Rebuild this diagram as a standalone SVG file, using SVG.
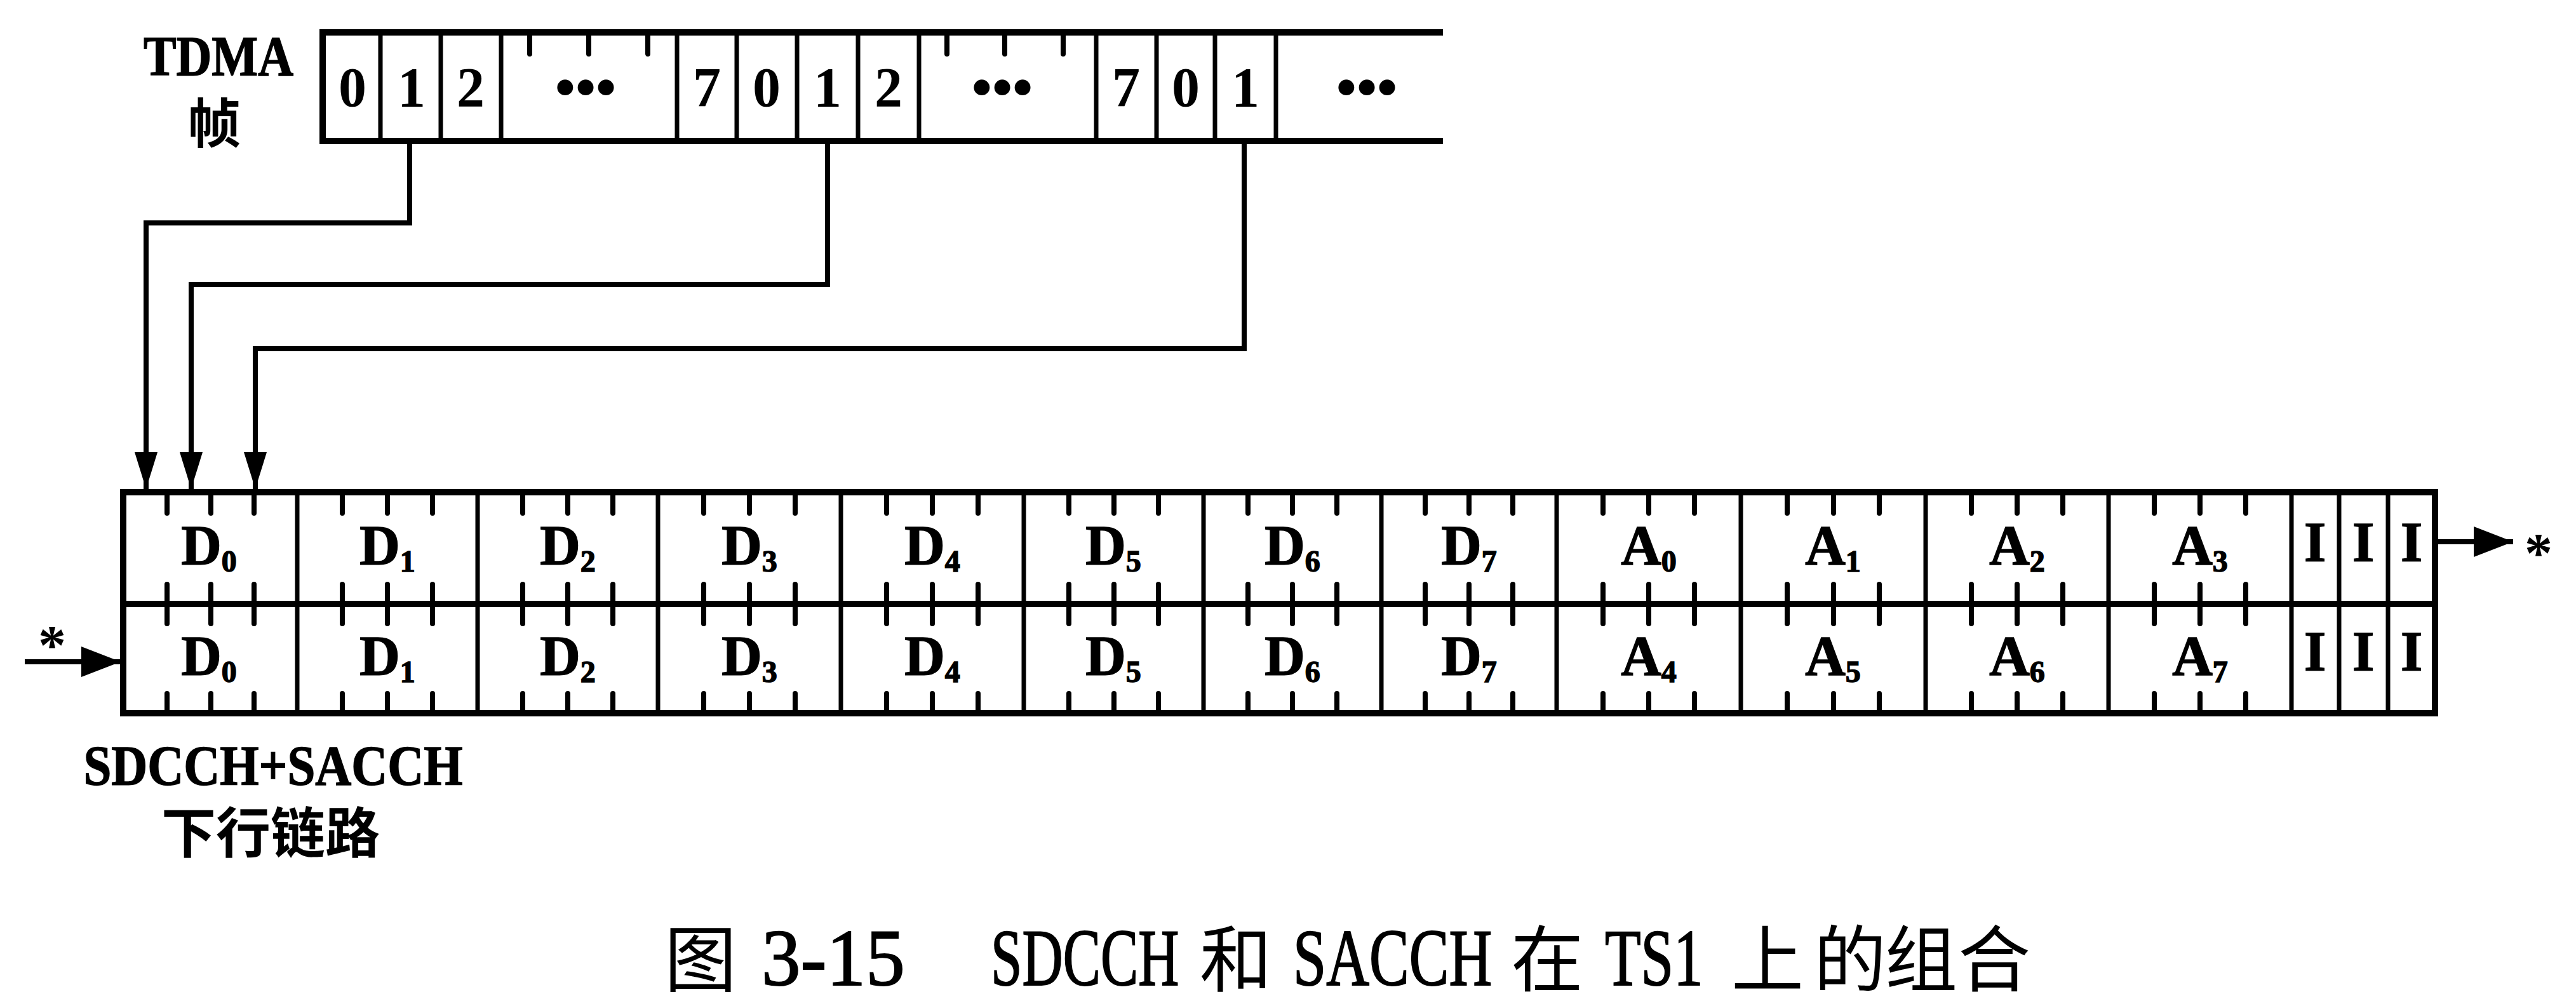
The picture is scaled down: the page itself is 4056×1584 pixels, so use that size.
<svg xmlns="http://www.w3.org/2000/svg" width="4056" height="1584" viewBox="0 0 4056 1584">
<style>
.ln{stroke:#000;fill:none;stroke-width:10}
.dv{stroke:#000;fill:none;stroke-width:7}
.tk{stroke:#000;fill:none;stroke-width:8;stroke-linecap:round}
.cn{stroke:#000;fill:none;stroke-width:8}
.lb{font-family:"Liberation Serif",serif;font-weight:bold;font-size:88px;text-anchor:middle;fill:#000;stroke:#000;stroke-width:1.5}
.sub{font-size:48px}
.dg{font-family:"Liberation Serif",serif;font-weight:bold;font-size:88px;text-anchor:middle;fill:#000}
.dots{font-family:"Liberation Serif",serif;font-weight:bold;font-size:92px;text-anchor:middle;fill:#000}
.ast{font-family:"Liberation Serif",serif;font-weight:bold;font-size:88px;text-anchor:middle;fill:#000}
.cjkb{font-family:"Noto Sans CJK SC",sans-serif;font-weight:bold;fill:#000}
.cap{font-family:"Liberation Serif",serif;font-size:127px;fill:#000;stroke:#000;stroke-width:2}
.capc{font-family:"Noto Sans CJK SC",sans-serif;font-size:114px;fill:#000;text-anchor:middle}
</style>
<defs>
<marker id="arrV" markerUnits="userSpaceOnUse" markerWidth="58" markerHeight="36" refX="58" refY="18" orient="auto"><path d="M0,0 L58,18 L0,36 Z" fill="#000"/></marker>
<marker id="arrH" markerUnits="userSpaceOnUse" markerWidth="62" markerHeight="48" refX="62" refY="24" orient="auto"><path d="M0,0 L62,24 L0,48 Z" fill="#000"/></marker>
</defs>
<rect width="4056" height="1584" fill="#fff"/>

<g id="tdma-label">
<text x="344" y="118" class="lb" textLength="236" lengthAdjust="spacingAndGlyphs">TDMA</text>
<text x="337" y="225" class="cjkb" font-size="84" text-anchor="middle">帧</text>
</g>

<g id="tdma-frame">
<path class="ln" d="M505,51 H2272 M505,222 H2272 M508,46 V227"/>
<path class="dv" d="M599,51V222 M694,51V222 M789,51V222 M1066,51V222 M1160,51V222 M1255,51V222 M1351,51V222 M1447,51V222 M1726,51V222 M1821,51V222 M1913,51V222 M2009,51V222"/>
<path class="tk" d="M834,51V85 M927,51V85 M1020,51V85 M1491,51V85 M1582,51V85 M1674,51V85"/>
<g id="tdma-slot-0a"><text x="555" y="167" class="dg">0</text></g>
<g id="tdma-slot-1a"><text x="648" y="167" class="dg">1</text></g>
<g id="tdma-slot-2a"><text x="741" y="167" class="dg">2</text></g>
<g id="tdma-slot-dots-a"><text x="922" y="168" class="dots">•••</text></g>
<g id="tdma-slot-7a"><text x="1113" y="167" class="dg">7</text></g>
<g id="tdma-slot-0b"><text x="1207" y="167" class="dg">0</text></g>
<g id="tdma-slot-1b"><text x="1303" y="167" class="dg">1</text></g>
<g id="tdma-slot-2b"><text x="1399" y="167" class="dg">2</text></g>
<g id="tdma-slot-dots-b"><text x="1578" y="168" class="dots">•••</text></g>
<g id="tdma-slot-7b"><text x="1773" y="167" class="dg">7</text></g>
<g id="tdma-slot-0c"><text x="1867" y="167" class="dg">0</text></g>
<g id="tdma-slot-1c"><text x="1961" y="167" class="dg">1</text></g>
<g id="tdma-slot-dots-c"><text x="2152" y="168" class="dots">•••</text></g>
</g>

<g id="connectors">
<path class="cn" d="M645,222 V351 H230 V770" marker-end="url(#arrV)"/>
<path class="cn" d="M1303,222 V448 H301 V770" marker-end="url(#arrV)"/>
<path class="cn" d="M1959,222 V549 H402 V770" marker-end="url(#arrV)"/>
<path class="cn" d="M3834,853 H3957" marker-end="url(#arrH)"/>
<path class="cn" d="M39,1042 H190" marker-end="url(#arrH)"/>
</g>

<g id="multiframe">
<path class="ln" d="M190,775 H3839 M195,951 H3834 M190,1123 H3839 M194,770 V1128 M3834,770 V1128"/>
<path class="dv" d="M468,775V1123 M752,775V1123 M1036,775V1123 M1324,775V1123 M1612,775V1123 M1895,775V1123 M2175,775V1123 M2451,775V1123 M2741,775V1123 M3032,775V1123 M3320,775V1123 M3608,775V1123 M3683,775V1123 M3760,775V1123"/>
<path class="tk" d="M263,775V808 M332,775V808 M400,775V808 M539,775V808 M610,775V808 M681,775V808 M823,775V808 M894,775V808 M965,775V808 M1108,775V808 M1180,775V808 M1252,775V808 M1396,775V808 M1468,775V808 M1540,775V808 M1683,775V808 M1754,775V808 M1824,775V808 M1965,775V808 M2035,775V808 M2105,775V808 M2244,775V808 M2313,775V808 M2382,775V808 M2524,775V808 M2596,775V808 M2668,775V808 M2814,775V808 M2887,775V808 M2959,775V808 M3104,775V808 M3176,775V808 M3248,775V808 M3392,775V808 M3464,775V808 M3536,775V808"/>
<path class="tk" d="M263,920V982 M332,920V982 M400,920V982 M539,920V982 M610,920V982 M681,920V982 M823,920V982 M894,920V982 M965,920V982 M1108,920V982 M1180,920V982 M1252,920V982 M1396,920V982 M1468,920V982 M1540,920V982 M1683,920V982 M1754,920V982 M1824,920V982 M1965,920V982 M2035,920V982 M2105,920V982 M2244,920V982 M2313,920V982 M2382,920V982 M2524,920V982 M2596,920V982 M2668,920V982 M2814,920V982 M2887,920V982 M2959,920V982 M3104,920V982 M3176,920V982 M3248,920V982 M3392,920V982 M3464,920V982 M3536,920V982"/>
<path class="tk" d="M263,1092V1123 M332,1092V1123 M400,1092V1123 M539,1092V1123 M610,1092V1123 M681,1092V1123 M823,1092V1123 M894,1092V1123 M965,1092V1123 M1108,1092V1123 M1180,1092V1123 M1252,1092V1123 M1396,1092V1123 M1468,1092V1123 M1540,1092V1123 M1683,1092V1123 M1754,1092V1123 M1824,1092V1123 M1965,1092V1123 M2035,1092V1123 M2105,1092V1123 M2244,1092V1123 M2313,1092V1123 M2382,1092V1123 M2524,1092V1123 M2596,1092V1123 M2668,1092V1123 M2814,1092V1123 M2887,1092V1123 M2959,1092V1123 M3104,1092V1123 M3176,1092V1123 M3248,1092V1123 M3392,1092V1123 M3464,1092V1123 M3536,1092V1123"/>
<g id="row1">
<text x="329" y="888" class="lb">D<tspan class="sub" dy="12">0</tspan></text>
<text x="610" y="888" class="lb">D<tspan class="sub" dy="12">1</tspan></text>
<text x="894" y="888" class="lb">D<tspan class="sub" dy="12">2</tspan></text>
<text x="1180" y="888" class="lb">D<tspan class="sub" dy="12">3</tspan></text>
<text x="1468" y="888" class="lb">D<tspan class="sub" dy="12">4</tspan></text>
<text x="1753" y="888" class="lb">D<tspan class="sub" dy="12">5</tspan></text>
<text x="2035" y="888" class="lb">D<tspan class="sub" dy="12">6</tspan></text>
<text x="2313" y="888" class="lb">D<tspan class="sub" dy="12">7</tspan></text>
<text x="2596" y="888" class="lb">A<tspan class="sub" dy="12">0</tspan></text>
<text x="2886" y="888" class="lb">A<tspan class="sub" dy="12">1</tspan></text>
<text x="3176" y="888" class="lb">A<tspan class="sub" dy="12">2</tspan></text>
<text x="3464" y="888" class="lb">A<tspan class="sub" dy="12">3</tspan></text>
<text x="3645" y="883" class="lb">I</text>
<text x="3721" y="883" class="lb">I</text>
<text x="3797" y="883" class="lb">I</text>
</g>
<g id="row2">
<text x="329" y="1062" class="lb">D<tspan class="sub" dy="12">0</tspan></text>
<text x="610" y="1062" class="lb">D<tspan class="sub" dy="12">1</tspan></text>
<text x="894" y="1062" class="lb">D<tspan class="sub" dy="12">2</tspan></text>
<text x="1180" y="1062" class="lb">D<tspan class="sub" dy="12">3</tspan></text>
<text x="1468" y="1062" class="lb">D<tspan class="sub" dy="12">4</tspan></text>
<text x="1753" y="1062" class="lb">D<tspan class="sub" dy="12">5</tspan></text>
<text x="2035" y="1062" class="lb">D<tspan class="sub" dy="12">6</tspan></text>
<text x="2313" y="1062" class="lb">D<tspan class="sub" dy="12">7</tspan></text>
<text x="2596" y="1062" class="lb">A<tspan class="sub" dy="12">4</tspan></text>
<text x="2886" y="1062" class="lb">A<tspan class="sub" dy="12">5</tspan></text>
<text x="3176" y="1062" class="lb">A<tspan class="sub" dy="12">6</tspan></text>
<text x="3464" y="1062" class="lb">A<tspan class="sub" dy="12">7</tspan></text>
<text x="3645" y="1055" class="lb">I</text>
<text x="3721" y="1055" class="lb">I</text>
<text x="3797" y="1055" class="lb">I</text>
</g>
</g>

<g id="io-marks">
<text x="3997" y="900" class="ast">*</text>
<text x="82" y="1045" class="ast">*</text>
</g>

<g id="channel-label">
<text x="430" y="1235" class="lb" font-size="90" textLength="597" lengthAdjust="spacingAndGlyphs">SDCCH+SACCH</text>
<text x="426" y="1343" class="cjkb" font-size="86" text-anchor="middle">下行链路</text>
</g>

<g id="caption">
<text x="1103" y="1552" class="capc">图</text>
<text transform="translate(1199,1551) scale(0.97,1)" class="cap">3-15</text>
<text transform="translate(1560,1551) scale(0.70,1)" class="cap">SDCCH</text>
<text x="1946" y="1552" class="capc">和</text>
<text transform="translate(2036,1551) scale(0.74,1)" class="cap">SACCH</text>
<text x="2436" y="1552" class="capc">在</text>
<text transform="translate(2527,1551) scale(0.73,1)" class="cap">TS1</text>
<text x="2783" y="1552" class="capc">上</text>
<text x="2913" y="1552" class="capc">的</text>
<text x="3025" y="1552" class="capc">组</text>
<text x="3140" y="1552" class="capc">合</text>
</g>
</svg>
